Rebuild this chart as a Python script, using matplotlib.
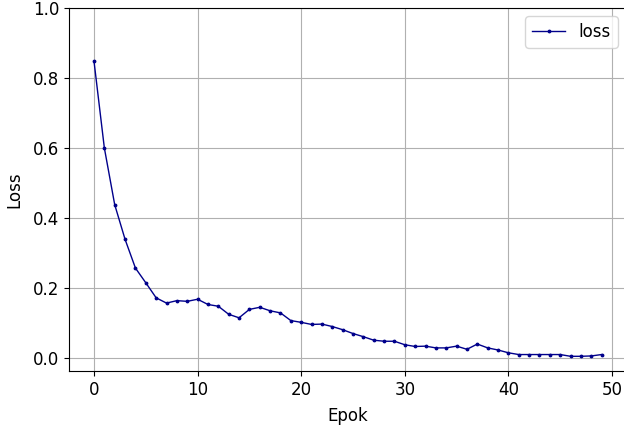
import matplotlib
matplotlib.use("Agg")
import matplotlib.pyplot as plt

epochs = list(range(50))
loss = [0.848, 0.600, 0.438, 0.339, 0.257, 0.215, 0.172, 0.157, 0.164, 0.162,
        0.168, 0.153, 0.148, 0.125, 0.115, 0.139, 0.145, 0.135, 0.129, 0.107,
        0.102, 0.096, 0.097, 0.090, 0.081, 0.070, 0.061, 0.051, 0.048, 0.048,
        0.038, 0.033, 0.034, 0.029, 0.029, 0.034, 0.025, 0.040, 0.029, 0.023,
        0.015, 0.010, 0.010, 0.010, 0.010, 0.010, 0.005, 0.005, 0.006, 0.010]

plt.rcParams['font.size'] = 12
fig = plt.figure(figsize=(6.24, 4.30), dpi=100)
px_per_unit = (612 - 94) / 50.0
left_px, right_px = 69, 626
ax = fig.add_axes([left_px/624, (430-371)/430, (right_px-left_px)/624, (371-8)/430])
ax.plot(epochs, loss, color='darkblue', marker='.', markersize=3.5, linewidth=1, label='loss')
ax.set_xlim((left_px - 94)/px_per_unit, (right_px - 94)/px_per_unit)
ax.set_ylim(-0.037, 1.0)
ax.set_xticks([0, 10, 20, 30, 40, 50])
ax.set_yticks([0.0, 0.2, 0.4, 0.6, 0.8, 1.0])
ax.grid(True, color='#b0b0b0', linewidth=0.8)
ax.spines['right'].set_visible(False)
ax.set_xlabel('Epok', labelpad=6)
ax.set_ylabel('Loss', labelpad=7)
ax.legend(loc='upper right')
fig.savefig('out.png', dpi=100)
